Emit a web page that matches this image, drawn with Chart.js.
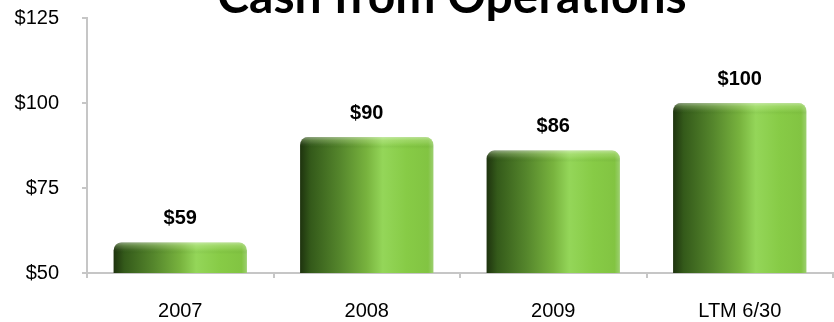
<!DOCTYPE html>
<html>
<head>
<meta charset="utf-8">
<title>Cash from Operations</title>
<script src="https://cdn.jsdelivr.net/npm/chart.js@4/dist/chart.umd.min.js"></script>
<style>
  html, body { margin: 0; padding: 0; background: #ffffff; }
  #wrap { position: relative; width: 834px; height: 322px; }
</style>
</head>
<body>
<div id="wrap"><canvas id="chart" width="834" height="322"></canvas></div>
<script>
// Cash from operations, $ millions
const categories = ['2007', '2008', '2009', 'LTM 6/30'];
const cashValues = [59, 90, 86, 100];
const valueLabels = ['$59', '$90', '$86', '$100'];
const yTicks = [50, 75, 100, 125];
const chartTitle = 'Cash from Operations';

const BAR_PCT = 0.715;
const AXIS_GRAY = '#c6c6c6';

// Horizontal shading that gives each column its rounded, cylinder-like look
function barGradient(ctx) {
  const chart = ctx.chart;
  const xs = chart.scales.x;
  if (!chart.chartArea || !xs) return '#7ab840';
  const centre = xs.getPixelForValue(ctx.dataIndex);
  const w = (xs.width / categories.length) * BAR_PCT;
  const left = centre - w / 2;
  const g = chart.ctx.createLinearGradient(left, 0, left + w, 0);
  g.addColorStop(0.00, '#1e330e');
  g.addColorStop(0.08, '#345a1a');
  g.addColorStop(0.30, '#55862c');
  g.addColorStop(0.50, '#78b33e');
  g.addColorStop(0.62, '#94d659');
  g.addColorStop(0.80, '#87cb46');
  g.addColorStop(0.96, '#82c442');
  g.addColorStop(1.00, '#9ccf70');
  return g;
}

// Chart heading, partly running off the top edge
const titlePlugin = {
  id: 'cutTitle',
  afterDraw(chart) {
    const c = chart.ctx;
    c.save();
    c.font = 'bold 48px Lato, "Open Sans", sans-serif';
    c.fillStyle = '#000000';
    c.textAlign = 'center';
    c.textBaseline = 'alphabetic';
    c.fillText(chartTitle, 452, 13);
    c.restore();
  }
};

// Lighter rim across the top of every column plus its value label
const capAndLabelPlugin = {
  id: 'capAndLabel',
  afterDatasetsDraw(chart) {
    const c = chart.ctx;
    const meta = chart.getDatasetMeta(0);
    meta.data.forEach((bar, i) => {
      const w = bar.width;
      const left = bar.x - w / 2;
      const top = bar.y;
      c.save();
      const rim = c.createLinearGradient(0, top, 0, top + 12);
      rim.addColorStop(0.0, 'rgba(255,255,255,0.45)');
      rim.addColorStop(0.3, 'rgba(230,255,200,0.22)');
      rim.addColorStop(0.6, 'rgba(255,255,255,0.04)');
      rim.addColorStop(0.8, 'rgba(0,40,0,0.04)');
      rim.addColorStop(1.0, 'rgba(0,40,0,0)');
      c.beginPath();
      c.roundRect(left, top, w, 12, [8, 8, 0, 0]);
      c.fillStyle = rim;
      c.fill();
      c.restore();

      c.save();
      c.font = 'bold 20px "Liberation Sans", Arial, sans-serif';
      c.fillStyle = '#000000';
      c.textAlign = 'center';
      c.textBaseline = 'middle';
      c.fillText(valueLabels[i], bar.x, top - 24);
      c.restore();
    });
  }
};

new Chart(document.getElementById('chart'), {
  type: 'bar',
  data: {
    labels: categories,
    datasets: [{
      data: cashValues,
      backgroundColor: barGradient,
      borderWidth: 0,
      borderRadius: { topLeft: 8, topRight: 8, bottomLeft: 0, bottomRight: 0 },
      borderSkipped: 'bottom',
      barPercentage: BAR_PCT,
      categoryPercentage: 1.0
    }]
  },
  options: {
    responsive: false,
    animation: false,
    devicePixelRatio: 1,
    layout: { padding: { top: 18, right: 1, left: 0, bottom: 0 } },
    plugins: {
      legend: { display: false },
      tooltip: { enabled: false },
      title: { display: false }
    },
    scales: {
      x: {
        offset: true,
        grid: {
          display: true,
          offset: true,
          drawOnChartArea: false,
          drawTicks: true,
          tickLength: 5,
          color: AXIS_GRAY,
          lineWidth: 2
        },
        border: { display: true, color: AXIS_GRAY, width: 2 },
        ticks: {
          color: '#000000',
          padding: 21,
          font: { family: '"Liberation Sans", Arial, sans-serif', size: 20 }
        },
        afterFit(scale) { scale.height = 49; }
      },
      y: {
        min: 50,
        max: 125,
        afterBuildTicks(scale) { scale.ticks = yTicks.map(v => ({ value: v })); },
        grid: {
          display: true,
          drawOnChartArea: false,
          drawTicks: true,
          tickLength: 5,
          color: AXIS_GRAY,
          lineWidth: 2
        },
        border: { display: true, color: AXIS_GRAY, width: 2 },
        ticks: {
          color: '#000000',
          padding: 23,
          font: { family: '"Liberation Sans", Arial, sans-serif', size: 20 },
          callback: (v) => '$' + v
        },
        afterFit(scale) {
          scale.width = 87;
          scale.paddingTop = 0;
          scale.paddingBottom = 0;
        }
      }
    }
  },
  plugins: [capAndLabelPlugin, titlePlugin]
});
</script>
</body>
</html>
